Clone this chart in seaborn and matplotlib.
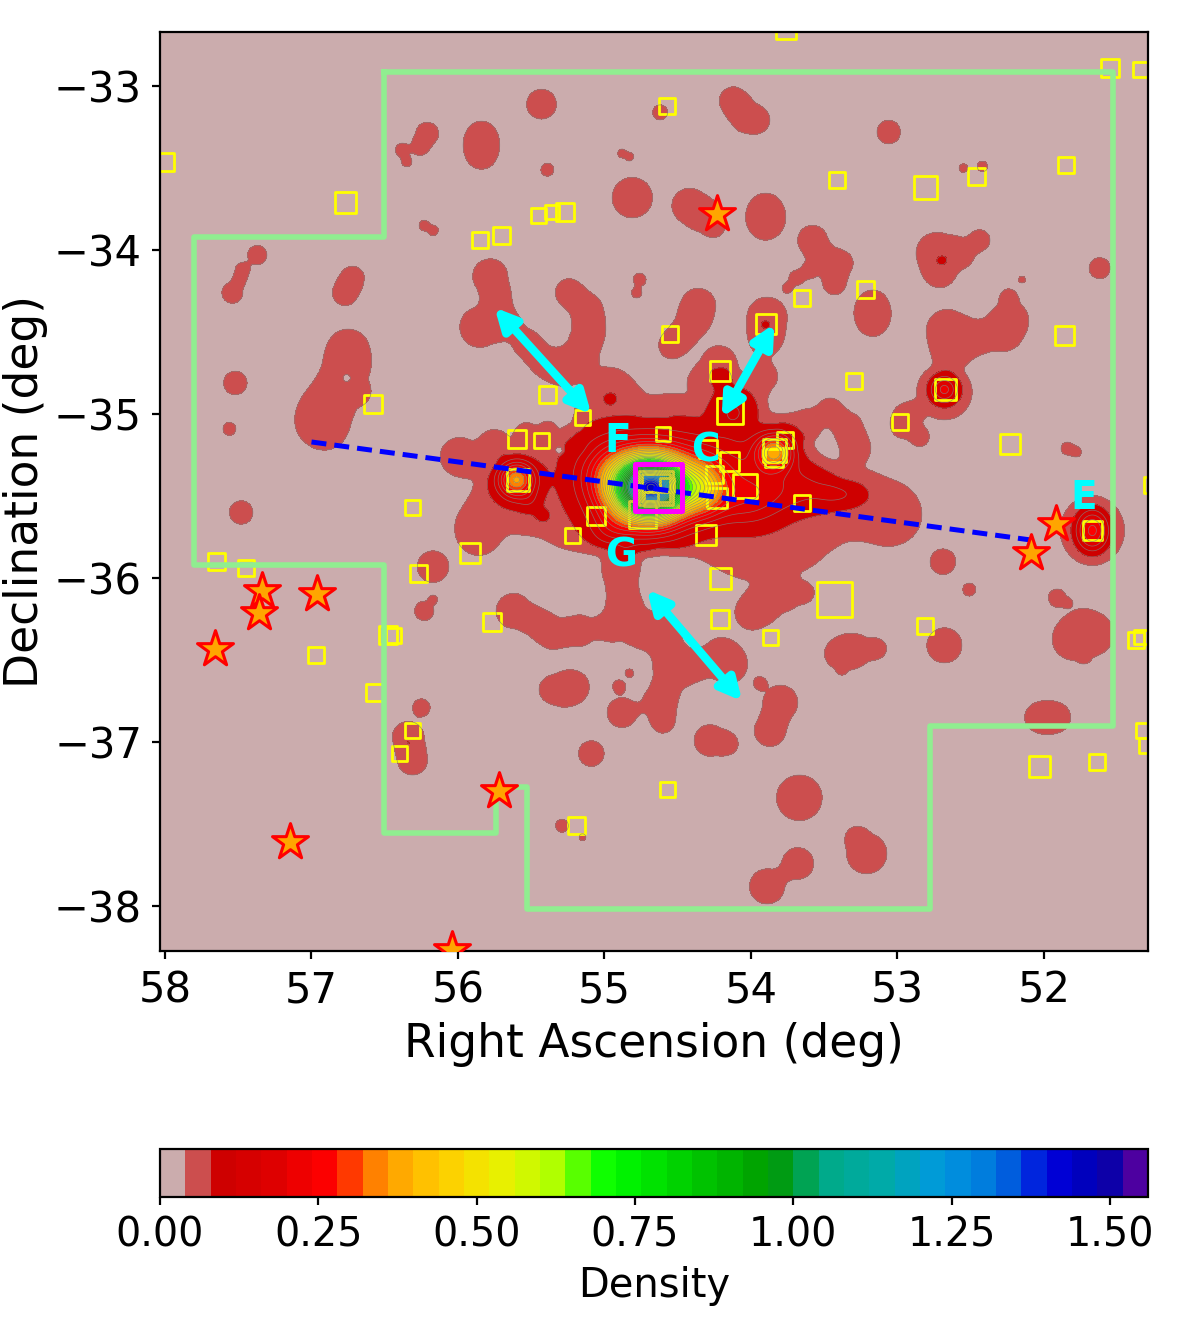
import numpy as np
import pandas as pd
import matplotlib
matplotlib.use("Agg")
import matplotlib.pyplot as plt
import seaborn as sns

# faint outer structure of the map (ra, dec, radius in deg)
patch_ra = [55.84, 55.84, 55.43, 56.21, 56.26, 56.38, 56.35, 55.39, 54.88, 54.83, 54.81, 56.23, 56.17,
            57.37, 57.47, 57.49, 57.54, 56.72, 56.77, 55.78, 55.73, 55.85, 55.67, 55.53, 55.42, 55.30,
            55.24, 55.12, 55.10, 55.15, 55.24, 54.98, 55.08, 54.96, 56.75, 56.76, 56.87, 56.96, 56.89,
            56.67, 57.52, 57.56, 55.99, 55.76, 55.53, 55.39, 55.24, 55.08, 55.60, 55.42, 55.85, 55.86,
            55.71, 55.58, 55.30, 55.17, 55.30, 54.89, 54.62, 54.35, 54.07, 53.87, 53.67, 53.39, 53.12,
            53.02, 53.67, 53.46, 53.34, 53.28, 53.60, 53.71, 53.84, 53.92, 54.01, 54.22, 54.33, 54.14,
            54.16, 54.46, 54.12, 54.03, 53.95, 54.62, 53.06, 52.55, 52.42, 54.42, 54.30, 54.25, 53.90,
            53.90, 53.58, 53.51, 53.39, 53.43, 53.69, 53.61, 53.75, 52.73, 52.71, 52.57, 52.44, 51.62,
            52.15, 52.24, 52.22, 52.28, 52.51, 52.66, 52.64, 52.68, 53.89, 53.90, 54.36, 54.40, 54.50,
            54.55, 53.17, 53.17, 52.94, 52.85, 52.96, 51.84, 51.78, 51.67, 54.89, 54.87, 54.85, 55.62,
            55.46, 55.35, 55.17, 54.98, 54.74, 54.62, 54.55, 54.20, 54.40, 54.55, 54.62, 54.60, 54.28,
            54.16, 54.14, 53.94, 53.80, 53.87, 53.99, 53.87, 53.73, 53.63, 53.39, 53.28, 53.14, 53.38,
            52.68, 52.69, 52.51, 51.91, 51.84, 51.73, 51.82, 51.64, 51.73, 52.03, 51.92, 53.67, 53.28,
            53.21, 53.68, 53.89, 57.48, 56.17, 56.23, 56.17, 56.25, 56.34, 56.31, 55.37, 55.28, 55.20,
            54.83, 54.90, 54.88, 55.09, 55.29, 55.15, 54.76, 54.78, 54.76, 54.48]
patch_dec = [-33.31, -33.41, -33.11, -33.29, -33.37, -33.39, -33.46, -33.51, -33.41, -33.43, -33.68, -33.85, -33.88,
             -34.03, -34.12, -34.18, -34.26, -34.17, -34.26, -34.16, -34.30, -34.47, -34.45, -34.57, -34.67, -34.73,
             -34.26, -34.36, -34.49, -34.61, -34.69, -34.87, -34.96, -35.04, -34.61, -34.75, -34.93, -35.06, -35.10,
             -34.87, -34.81, -35.09, -35.26, -35.18, -35.12, -35.10, -35.14, -35.08, -35.40, -35.62, -35.65, -35.74,
             -35.52, -35.55, -35.52, -35.59, -35.22, -35.39, -35.34, -35.34, -35.71, -35.74, -35.68, -35.52, -35.59,
             -35.62, -35.46, -34.98, -35.08, -35.20, -35.05, -35.10, -35.23, -34.77, -34.91, -34.69, -34.79, -34.90,
             -34.99, -34.99, -33.09, -33.19, -33.21, -33.16, -33.28, -33.50, -33.49, -33.73, -33.80, -33.86, -33.76,
             -33.84, -33.94, -34.06, -34.08, -34.20, -34.17, -34.13, -34.23, -34.02, -34.14, -34.02, -33.94, -34.11,
             -34.18, -34.29, -34.41, -34.49, -34.55, -34.49, -34.61, -34.87, -34.41, -34.55, -34.34, -34.45, -34.55,
             -34.59, -34.34, -34.43, -35.02, -35.14, -35.08, -35.21, -35.23, -35.71, -35.97, -36.13, -36.26, -36.20,
             -36.27, -36.34, -36.32, -36.30, -36.32, -36.34, -36.48, -36.48, -36.54, -36.60, -36.76, -36.88, -36.99,
             -37.01, -36.54, -36.64, -36.76, -36.93, -36.21, -36.13, -36.09, -36.09, -36.46, -36.44, -36.43, -36.56,
             -36.41, -35.90, -36.07, -36.12, -36.15, -36.34, -36.38, -36.34, -36.48, -36.85, -36.85, -37.34, -37.58,
             -37.68, -37.74, -37.88, -35.60, -35.93, -36.20, -36.13, -36.79, -36.97, -37.11, -36.68, -36.68, -36.66,
             -36.58, -36.66, -36.82, -37.07, -37.51, -37.58, -34.18, -34.26, -35.71, -35.71]
patch_r = [.09, .09, .085, .065, .05, .04, .03, .037, .025, .025, .115, .03, .03,
           .055, .042, .037, .06, .067, .073, .1, .08, .115, .085, .08, .085, .09,
           .08, .09, .09, .09, .08, .145, .073, .12, .12, .12, .15, .12, .09,
           .055, .067, .037, .11, .073, .06, .05, .05, .09, .21, .055, .12, .11,
           .12, .15, .195, .195, .073, .33, .365, .335, .24, .21, .21, .195, .17,
           .135, .15, .073, .085, .08, .073, .073, .195, .085, .085, .1, .073, .12,
           .135, .06, .08, .09, .06, .043, .067, .025, .03, .1, .09, .05, .1,
           .09, .085, .08, .073, .067, .043, .043, .03, .12, .08, .08, .06, .06,
           .02, .05, .08, .12, .1, .12, .09, .15, .115, .09, .1, .085, .085,
           .055, .09, .09, .08, .055, .06, .037, .03, .175, .1, .09, .11, .1,
           .08, .09, .09, .073, .085, .11, .09, .11, .09, .09, .1, .06, .09,
           .06, .085, .037, .1, .09, .1, .1, .08, .05, .09, .09, .055, .025,
           .1, .073, .037, .05, .025, .145, .08, .073, .03, .085, .085, .13, .055,
           .115, .09, .1, .067, .09, .055, .025, .05, .09, .085, .055, .1, .073,
           .025, .037, .085, .073, .037, .02, .037, .03, .1, .1]

# small gaps inside the outer structure
gap_ra = [56.76, 55.31]
gap_dec = [-34.78, -35.22]
gap_r = [.022, .022]

# denser peaks on top (ra, dec, amplitude, width in ra, width in dec)
peak_ra = [54.68, 54.72, 54.67, 54.33, 54.96, 54.35, 54.04, 54.96, 54.86, 53.67, 53.39, 54.12, 54.20,
           54.96, 52.70, 53.90, 56.34, 52.68, 55.60, 55.42, 53.84, 51.67, 55.51]
peak_dec = [-35.45, -35.46, -35.45, -35.46, -35.34, -35.31, -35.52, -35.71, -35.86, -35.46, -35.49, -34.98, -34.76,
            -34.90, -34.06, -34.45, -37.00, -34.85, -35.40, -35.62, -35.23, -35.71, -35.53]
peak_amp = [.85, .40, .10, .25, .10, .10, .10, .06, .03, .05, .04, .05, .03,
            .025, .025, .025, .02, .16, .30, .02, .30, .20, .03]
peak_wra = [.16, .205, .06, .11, .15, .375, .17, .10, .05, .24, .10, .10, .06,
            .035, .03, .03, .02, .068, .082, .035, .082, .075, .05]
peak_wdec = [.125, .15, .05, .11, .134, .134, .11, .09, .045, .09, .05, .085, .055,
             .03, .025, .025, .02, .061, .073, .03, .073, .085, .05]

# yellow squares: ra, dec, side in pixels
square_ra = [53.76, 58.00, 56.77, 54.57, 51.55, 51.34, 53.41, 52.81, 52.46, 51.85, 55.45, 55.36, 55.27, 55.85, 55.70,
             53.22, 53.65, 54.55, 53.90, 51.86, 53.30, 54.21, 52.67, 52.98, 52.23, 54.14, 56.58, 55.39, 55.15, 55.60,
             55.43, 54.60, 53.77, 53.84, 53.84, 54.29, 54.15, 54.25, 54.04, 54.23, 55.59, 53.65, 56.31, 55.06, 54.74,
             54.31, 55.22, 55.92, 56.27, 57.65, 57.45, 54.21, 54.21, 53.43, 53.87, 52.81, 55.77, 56.48, 56.44, 56.97,
             56.57, 56.31, 56.40, 55.19, 54.57, 52.03, 51.64, 51.37, 51.34, 51.32, 51.30, 51.26, 51.67, 54.65, 54.65,
             54.57, 54.68]
square_dec = [-32.65, -33.46, -33.71, -33.12, -32.89, -32.90, -33.57, -33.62, -33.55, -33.48, -33.79, -33.77, -33.77, -33.94, -33.91,
              -34.24, -34.29, -34.51, -34.45, -34.52, -34.80, -34.74, -34.85, -35.05, -35.18, -34.98, -34.94, -34.88, -35.02, -35.15,
              -35.16, -35.12, -35.16, -35.22, -35.27, -35.21, -35.29, -35.37, -35.44, -35.51, -35.40, -35.54, -35.57, -35.62, -35.61,
              -35.74, -35.74, -35.85, -35.97, -35.90, -35.94, -36.00, -36.25, -36.13, -36.36, -36.29, -36.27, -36.35, -36.35, -36.47,
              -36.70, -36.93, -37.07, -37.51, -37.29, -37.15, -37.12, -36.38, -36.36, -36.93, -37.02, -35.43, -35.71, -35.45, -35.45,
              -35.43, -35.52]
square_side = [20, 18, 21, 16, 18, 15, 16, 23, 17, 16, 15, 14, 18, 16, 17,
               17, 16, 16, 20, 19, 16, 20, 21, 16, 20, 26, 18, 17, 15, 18,
               15, 14, 16, 23, 18, 18, 19, 17, 24, 20, 22, 16, 15, 18, 27,
               20, 15, 20, 17, 17, 16, 21, 18, 35, 15, 16, 18, 18, 15, 16,
               17, 15, 15, 17, 15, 21, 16, 16, 14, 15, 15, 16, 19, 34, 28,
               14, 14]

star_ra = [54.23, 52.09, 51.92, 57.34, 57.36, 56.96, 57.66, 57.15, 55.72, 56.04]
star_dec = [-33.78, -35.85, -35.67, -36.08, -36.21, -36.10, -36.43, -37.61, -37.30, -38.27]

survey_ra = [56.505, 51.53, 51.53, 52.78, 52.78, 55.53, 55.53, 55.74, 55.74, 56.505, 56.505, 57.80, 57.80, 56.505, 56.505]
survey_dec = [-32.915, -32.915, -36.90, -36.90, -38.02, -38.02, -37.275, -37.275, -37.555, -37.555, -35.92, -35.92, -33.92, -33.92, -32.915]

axis_ra = [57.0, 52.03]
axis_dec = [-35.17, -35.775]

arrow_ends = [((55.75, -34.35), (55.09, -35.0)),
              ((53.84, -34.45), (54.2, -35.02)),
              ((54.71, -36.07), (54.06, -36.75))]
labels = ["F", "C", "G", "E"]
label_ra = [54.91, 54.31, 54.89, 51.73]
label_dec = [-35.165, -35.22, -35.86, -35.51]

levels = np.arange(0, 40) * 0.04
ra_ticks = [58, 57, 56, 55, 54, 53, 52]
dec_ticks = [-33, -34, -35, -36, -37, -38]
cbar_ticks = [0, 0.25, 0.5, 0.75, 1.0, 1.25, 1.5]

# density grid
ra_grid, dec_grid = np.meshgrid(np.linspace(58.04, 51.28, 700), np.linspace(-38.28, -32.66, 700))
low = np.zeros_like(ra_grid)
for ra, dec, r in zip(patch_ra, patch_dec, patch_r):
    d2 = ((ra_grid - ra) / (r * 1.12)) ** 2 + ((dec_grid - dec) / r) ** 2
    low += np.exp(-0.33 * d2 ** 2)
for ra, dec, r in zip(gap_ra, gap_dec, gap_r):
    d2 = ((ra_grid - ra) / (r * 1.12)) ** 2 + ((dec_grid - dec) / r) ** 2
    low *= 1 - 0.98 * np.exp(-0.43 * d2 ** 2)
density = 0.07 * np.tanh(low)
for ra, dec, amp, wra, wdec in zip(peak_ra, peak_dec, peak_amp, peak_wra, peak_wdec):
    density += amp * np.exp(-((ra_grid - ra) / wra) ** 2 / 2 - ((dec_grid - dec) / wdec) ** 2 / 2)
density = np.minimum(density, 1.55)

spectral = plt.get_cmap("nipy_spectral_r")
band_colors = [spectral((i + 0.5) / 44) for i in range(len(levels) - 1)]
band_colors[0] = "#cbacad"
band_colors[1] = "#cc4e4e"

squares = pd.DataFrame({"ra": square_ra, "dec": square_dec, "side": square_side})
stars = pd.DataFrame({"ra": star_ra, "dec": star_dec})
px = 72 / 200

fig = plt.figure(figsize=(6, 6.675), dpi=200)
ax = fig.add_axes([160 / 1200, 1 - 951 / 1335, 988 / 1200, 919 / 1335])
cax = fig.add_axes([160 / 1200, 1 - 1197 / 1335, 988 / 1200, 48 / 1335])

cf = ax.contourf(ra_grid, dec_grid, density, levels=levels, colors=band_colors, zorder=1)

sns.scatterplot(data=squares, x="ra", y="dec", marker="s", s=(squares["side"] * px) ** 2,
                edgecolor="yellow", linewidth=1.0, legend=False, ax=ax, zorder=2)
ax.collections[-1].set_facecolor("none")

ax.contour(ra_grid, dec_grid, density, levels=levels, colors="gray", linewidths=0.25, alpha=0.8, zorder=3)

ax.plot(survey_ra, survey_dec, color="lightgreen", lw=2, zorder=4)
ax.plot(axis_ra, axis_dec, color="blue", lw=1.8, linestyle=(0, (3, 1.6)), zorder=5)

# central cluster box
sns.scatterplot(x=[54.63], y=[-35.45], marker="s", s=(47 * px) ** 2, edgecolor="magenta",
                linewidth=1.8, legend=False, ax=ax, zorder=6)
ax.collections[-1].set_facecolor("none")

for start, end in arrow_ends:
    ax.annotate("", xy=end, xytext=start, zorder=7,
                arrowprops=dict(arrowstyle="<|-|>", color="cyan", lw=3, mutation_scale=16, shrinkA=0, shrinkB=0))

sns.scatterplot(data=stars, x="ra", y="dec", marker="*", s=185, color="orange", edgecolor="red",
                linewidth=1.1, legend=False, ax=ax, zorder=8)

for name, ra, dec in zip(labels, label_ra, label_dec):
    ax.text(ra, dec, name, color="cyan", fontsize=14, fontweight="bold", ha="center", va="center", zorder=9)

ax.set_xlim(58.034, 51.29)
ax.set_ylim(-38.274, -32.67)
ax.set_xticks(ra_ticks)
ax.set_yticks(dec_ticks)
ax.tick_params(labelsize=15, length=3)
ax.set_xlabel("Right Ascension (deg)", fontsize=16.4, labelpad=4)
ax.set_ylabel("Declination (deg)", fontsize=16.4, labelpad=2)

cbar = fig.colorbar(cf, cax=cax, orientation="horizontal", ticks=cbar_ticks)
cbar.ax.set_xticklabels(["0.00", "0.25", "0.50", "0.75", "1.00", "1.25", "1.50"])
cbar.ax.tick_params(labelsize=14.3, length=3)
cbar.set_label("Density", fontsize=14.4)

fig.savefig("out.png", dpi=200)
